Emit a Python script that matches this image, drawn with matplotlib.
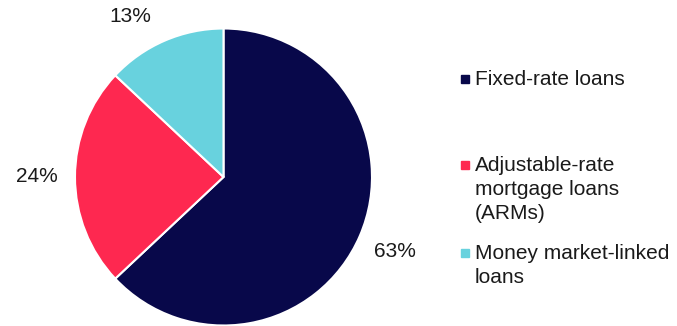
import matplotlib.pyplot as plt

plt.rcParams['font.family'] = ['Liberation Sans', 'DejaVu Sans']

categories = ['Fixed-rate loans',
              'Adjustable-rate\nmortgage loans\n(ARMs)',
              'Money market-linked\nloans']
shares = [63, 24, 13]
colors = ['#08084a', '#fe2850', '#68d2de']

fig = plt.figure(figsize=(6.77, 3.26), dpi=100)
ax = fig.add_axes([75 / 677, 0.5 / 326, 297 / 677, 297 / 326])

wedges, texts, pcts = ax.pie(shares, colors=colors, startangle=90, counterclock=False,
                             autopct='%.0f%%', pctdistance=1.26,
                             wedgeprops=dict(edgecolor='white', linewidth=1.5),
                             textprops=dict(fontsize=15, color='#1a1a1a'))
ax.set_xlim(-1, 1)
ax.set_ylim(-1, 1)
ax.set_aspect('equal')
for t in pcts:
    t.set_clip_on(False)
# small slice label sits a bit further round to the left
pcts[2].set_position((-0.63, 1.08))

# legend drawn by hand: square marker + wrapped label
legend_y = [79, 165, 253]
for name, col, y in zip(categories, colors, legend_y):
    fy = 1 - y / 326
    fig.patches.append(plt.Rectangle((461 / 677, fy - 4 / 326), 8 / 677, 8 / 326,
                                     transform=fig.transFigure, color=col))
    fig.text(475 / 677, fy + 9 / 326, name, fontsize=15, color='#1a1a1a',
             ha='left', va='top', linespacing=1.32)

fig.savefig('out.png', dpi=100)
